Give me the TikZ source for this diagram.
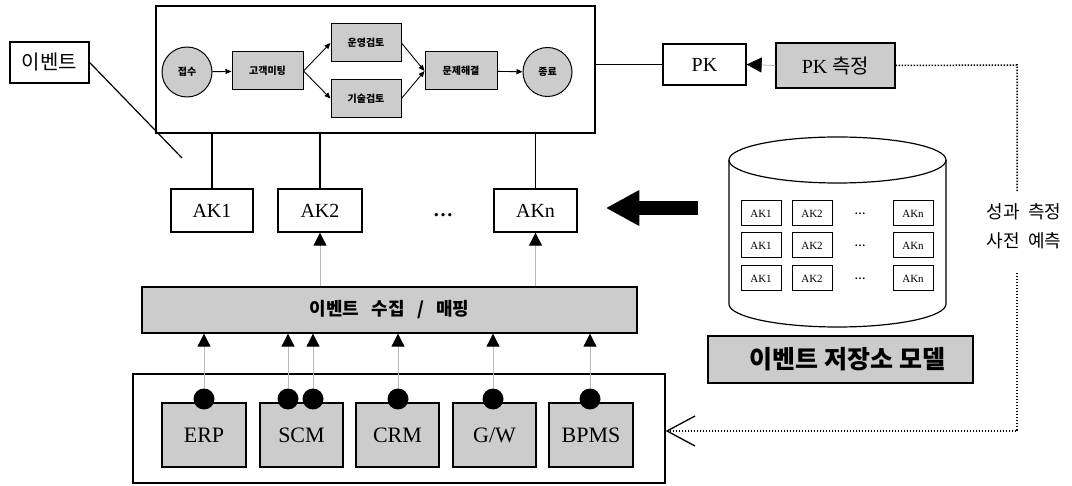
\documentclass[tikz,border=0pt]{standalone}
\usepackage{fontspec}
\setmainfont{Liberation Serif}
\newfontfamily\kr{Noto Sans CJK KR}
\usetikzlibrary{arrows.meta}
\begin{document}
\begin{tikzpicture}[x=1pt,y=-1pt,
  box/.style={draw, line width=1.3pt, inner sep=0pt, align=center},
  gbox/.style={box, fill=gray!40},
  akbox/.style={box, minimum height=43pt, font=\fontsize{20}{24}\selectfont},
  sysbox/.style={gbox, minimum height=64pt, font=\fontsize{22}{26}\selectfont},
  flowbox/.style={draw, line width=1pt, fill=gray!40, inner sep=0pt, minimum height=38pt, font=\kr\bfseries\fontsize{10}{12}\selectfont},
  flowcirc/.style={circle, draw, line width=1pt, fill=gray!40, minimum size=50pt, inner sep=0pt, font=\kr\bfseries\fontsize{10}{12}\selectfont},
  flowarr/.style={line width=0.9pt, -{Triangle[length=6pt,width=5pt]}},
  uparr/.style={draw=gray!55, line width=0.8pt, -{Triangle[length=13pt,width=13pt,color=black]}},
  dotnode/.style={circle, fill=black, minimum size=21pt, inner sep=0pt},
  minibox/.style={draw, line width=1pt, inner sep=0pt, minimum width=40pt, minimum height=25pt, font=\fontsize{11}{13}\selectfont},
  fb/.style={line width=1.5pt, dash pattern=on 1.5pt off 1.5pt},
  plain/.style={line width=1.2pt}
]
\useasboundingbox (0,0) rectangle (1072,486);

% top process box
\node[box, minimum width=439pt, minimum height=127pt] (top) at (375.5,69.5) {};
\node[flowcirc] (c1) at (187,72) {접수};
\node[flowbox, minimum width=71pt] (meet) at (267.5,71) {고객미팅};
\node[flowbox, minimum width=70pt] (op) at (366,43) {운영검토};
\node[flowbox, minimum width=70pt] (tech) at (366,98.5) {기술검토};
\node[flowbox, minimum width=72pt] (solve) at (461,71) {문제해결};
\node[flowcirc, minimum size=49pt] (c2) at (547.5,72) {종료};
\draw[flowarr] (c1) -- (meet);
\draw[flowarr] (meet.east) -- (op.west);
\draw[flowarr] (meet.east) -- (tech.west);
\draw[flowarr] (op.east) -- (solve.west);
\draw[flowarr] (tech.east) -- (solve.west);
\draw[flowarr] (solve) -- (c2);

% event label
\node[box, minimum width=79pt, minimum height=41pt, font=\kr\fontsize{20}{24}\selectfont] (ev) at (49.5,62.5) {이벤트};
\coordinate (evend) at (182,158);
\draw[plain] (ev.east) -- (evend);

% AK row
\node[akbox, minimum width=82pt] (ak1) at (212,210.5) {AK1};
\node[akbox, minimum width=84pt] (ak2) at (320,210.5) {AK2};
\node[akbox, minimum width=83pt] (akn) at (535.5,210.5) {AKn};
\node[font=\bfseries\fontsize{20}{24}\selectfont, inner sep=0pt] (akdots) at (443,215) {…};
\draw[plain] (ak1.north) -- (ak1.north |- top.south);
\draw[plain] (ak2.north) -- (ak2.north |- top.south);
\draw[plain] (akn.north) -- (akn.north |- top.south);

% PK
\node[akbox, minimum width=83pt, minimum height=41pt] (pk) at (704.5,64.5) {PK};
\node[gbox, minimum width=119pt, minimum height=45pt, font=\fontsize{20}{24}\selectfont] (pkm) at (835.5,65.5) {PK {\kr 측정}};
\draw[plain] (top.east |- pk.west) -- (pk.west);
\draw[draw=gray!55, line width=0.8pt, -{Triangle[length=15pt,width=15pt,color=black]}] (pkm.west) -- (pk.east);

% repository cylinder
\draw[line width=1.2pt] (729,160) -- (729,304) arc[start angle=180, end angle=360, x radius=108.5pt, y radius=23pt] -- (946,160);
\draw[line width=1.2pt] (837.5,160) ellipse[x radius=108.5pt, y radius=23pt];
\foreach \r/\yy in {1/213.5, 2/245.5, 3/278.5} {
  \node[minibox] (r\r a) at (761,\yy) {AK1};
  \node[minibox] (r\r b) at (812,\yy) {AK2};
  \node[font=\bfseries\fontsize{11}{13}\selectfont, inner sep=0pt] (r\r d) at (860,\yy) {…};
  \node[minibox] (r\r n) at (913,\yy) {AKn};
}
\node[gbox, minimum width=265pt, minimum height=47pt, font=\kr\bfseries\fontsize{25}{30}\selectfont] (repo) at (840.5,359.5) {\hspace{14pt}이벤트 저장소 모델};

% big arrow
\coordinate (bigs) at (698,208);
\coordinate (bige) at (607,208);
\draw[line width=14pt, -{Triangle[length=33pt,width=36pt,line width=1pt,round]}] (bigs) -- (bige);

% collection bar
\node[gbox, minimum width=495pt, minimum height=46pt, font=\kr\bfseries\fontsize{18}{21}\selectfont] (bar) at (389.5,310) {이벤트\ \ \ 수집\ \ \ /\ \ \ 매핑};
\draw[uparr] (ak2.south |- bar.north) -- (ak2.south);
\draw[uparr] (akn.south |- bar.north) -- (akn.south);

% bottom systems
\node[box, minimum width=532pt, minimum height=109pt] (sys) at (399,428.5) {};
\node[sysbox, minimum width=84pt] (erp) at (204,435) {ERP};
\node[sysbox, minimum width=83pt] (scm) at (301.5,435) {SCM};
\node[sysbox, minimum width=83pt] (crm) at (397.5,435) {CRM};
\node[sysbox, minimum width=83pt] (gw) at (494.5,435) {G/W};
\node[sysbox, minimum width=84pt] (bpms) at (591,435) {BPMS};
\foreach \n/\xx in {d1/204, d2/288, d3/313, d4/398, d5/493, d6/590} {
  \node[dotnode] (\n) at (\xx,399) {};
  \draw[uparr] (\n.north) -- (\n.north |- bar.south);
}

% feedback dotted loop
\node[font=\kr\fontsize{18}{29}\selectfont, align=center] (perf) at (1024,226) {성과\ \ 측정\\사전\ \ 예측};
\coordinate (f1) at (1017,65);
\coordinate (f2) at (1017,192);
\coordinate (f3) at (1017,273);
\coordinate (f4) at (1017,431);
\draw[fb] (pkm.east) -- (f1) -- (f2);
\draw[fb, -{Straight Barb[length=28pt,width=30pt,line width=1.3pt]}] (f3) -- (f4) -- (f4 -| sys.east);
\end{tikzpicture}
\end{document}
